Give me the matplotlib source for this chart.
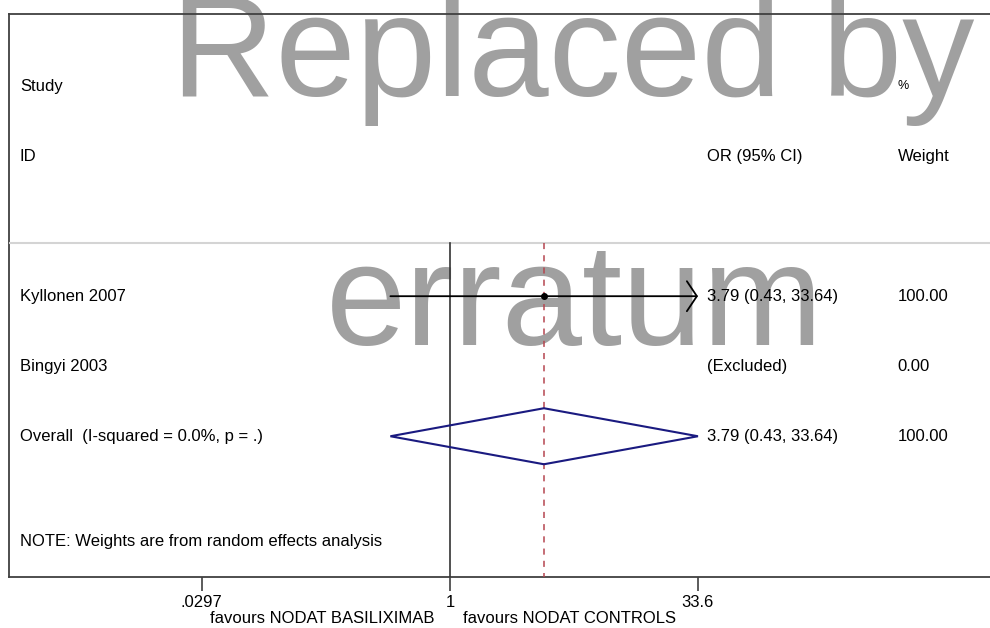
import numpy as np
import matplotlib
matplotlib.use("Agg")
import matplotlib.pyplot as plt
import matplotlib.transforms as mtransforms

plt.rcParams['font.family'] = ['Liberation Sans', 'DejaVu Sans']

# data
studies = ["Kyllonen 2007", "Bingyi 2003"]
or_est = [3.79, np.nan]
ci_low = [0.43, np.nan]
ci_high = [33.64, np.nan]
or_text = ["3.79 (0.43, 33.64)", "(Excluded)"]
weights = ["100.00", "0.00"]

overall_label = "Overall  (I-squared = 0.0%, p = .)"
overall_est = 3.79
overall_low = 0.43
overall_high = 33.64
overall_text = "3.79 (0.43, 33.64)"
overall_weight = "100.00"

xticks = [0.0297, 1, 33.6]
xtick_labels = [".0297", "1", "33.6"]
x_min, x_max = 0.00193, 2112

W, H = 990, 628
fig = plt.figure(figsize=(W / 100, H / 100), dpi=100)
ax = fig.add_axes([9 / W, 1 - 577 / H, 981 / W, 563 / H])
ax.set_xscale('log')
ax.set_xlim(x_min, x_max)
ax.set_ylim(4.01, -4.03)

fs = 12
txt = mtransforms.blended_transform_factory(ax.transAxes, ax.transData)
col_study, col_or, col_wt = 0.0112, 0.7115, 0.906

# headers
ax.text(col_study, -3.0, "Study", transform=txt, fontsize=fs, va='center')
ax.text(col_study, -2.0, "ID", transform=txt, fontsize=fs, va='center')
ax.text(col_or, -2.0, "OR (95% CI)", transform=txt, fontsize=fs, va='center')
ax.text(col_wt, -3.0, "%", transform=txt, fontsize=9, va='center')
ax.text(col_wt, -2.0, "Weight", transform=txt, fontsize=fs, va='center')
ax.axhline(-0.76, color='#d4d4d4', lw=1.5, zorder=3)

# reference lines
ax.plot([1, 1], [-0.76, 4.01], color='#333333', lw=1.2, zorder=3)
ax.plot([overall_est, overall_est], [-0.76, 4.01], color='#b5454f', lw=1.1,
        ls=(0, (4, 4)), zorder=3)

# study rows
for i, name in enumerate(studies):
    ax.text(col_study, i, name, transform=txt, fontsize=fs, va='center', zorder=5)
    ax.text(col_or, i, or_text[i], transform=txt, fontsize=fs, va='center', zorder=5)
    ax.text(col_wt, i, weights[i], transform=txt, fontsize=fs, va='center', zorder=5)
    if not np.isnan(or_est[i]):
        ax.annotate('', xy=(ci_high[i], i), xytext=(ci_low[i], i),
                    arrowprops=dict(arrowstyle='->,head_length=0.48,head_width=0.72',
                                    color='black', lw=1.3, mutation_scale=15,
                                    shrinkA=0, shrinkB=0), zorder=4)
        ax.plot(or_est[i], i, 'o', color='black', ms=4, zorder=5)

# overall diamond
row = len(studies)
ax.fill([overall_low, overall_est, overall_high, overall_est, overall_low],
        [row, row - 0.4, row, row + 0.4, row],
        facecolor='none', edgecolor='#1a1a80', lw=1.5, zorder=4)
ax.text(col_study, row, overall_label, transform=txt, fontsize=fs, va='center', zorder=5)
ax.text(col_or, row, overall_text, transform=txt, fontsize=fs, va='center', zorder=5)
ax.text(col_wt, row, overall_weight, transform=txt, fontsize=fs, va='center', zorder=5)

ax.text(col_study, 3.51, "NOTE: Weights are from random effects analysis",
        transform=txt, fontsize=fs, va='center')

# axes styling
for side in ['left', 'top', 'bottom']:
    ax.spines[side].set_color('#404040')
    ax.spines[side].set_linewidth(1.3)
ax.spines['right'].set_visible(False)
ax.set_yticks([])
ax.set_xticks(xticks)
ax.set_xticklabels(xtick_labels, fontsize=fs)
ax.minorticks_off()
ax.tick_params(axis='x', length=10, width=1.2, color='#404040', pad=3)
ax.text((434 - 9) / 981, -0.074, "favours NODAT BASILIXIMAB", transform=ax.transAxes,
        fontsize=fs, ha='right', va='center')
ax.text((463 - 9) / 981, -0.074, "favours NODAT CONTROLS", transform=ax.transAxes,
        fontsize=fs, ha='left', va='center')

# watermark
fig.text(573 / W, 1 - 96 / H, "Replaced by", fontsize=104, color='#a0a0a0',
         ha='center', va='baseline', zorder=0)
fig.text(575 / W, 1 - 345 / H, "erratum", fontsize=104, color='#a0a0a0',
         ha='center', va='baseline', zorder=0)
ax.set_zorder(1)
ax.patch.set_visible(False)

fig.savefig("out.png", dpi=100)
